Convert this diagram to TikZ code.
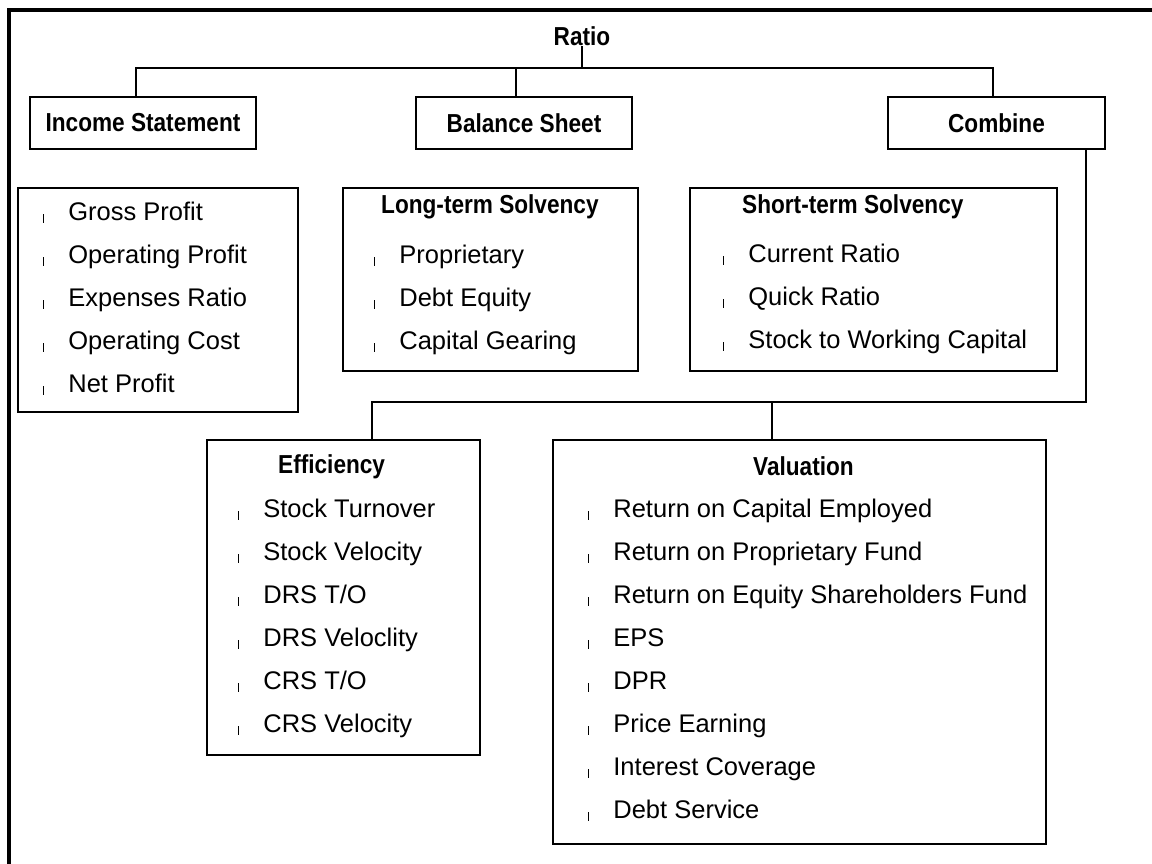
\documentclass[tikz,border=0pt]{standalone}
\usepackage{fontspec}
\setmainfont{Liberation Sans}
\newfontfamily\headfont{Liberation Sans}[FakeStretch=0.87]
\usetikzlibrary{positioning}

\newcommand{\itm}{\rule[-2.5pt]{1.8pt}{9pt}\hspace{24pt}}

\tikzset{
  box/.style={draw, line width=2.6pt, minimum height=52pt, inner sep=0pt, outer sep=0pt,
    font=\headfont\bfseries\fontsize{26}{30}\selectfont},
  listbox/.style={draw, line width=2.6pt, anchor=north west, inner sep=0pt, outer sep=0pt},
  title/.style={anchor=base west, inner sep=0pt,
    font=\headfont\bfseries\fontsize{26}{30}\selectfont},
  item/.style={anchor=base west, inner sep=0pt, font=\fontsize{25.5}{30}\selectfont},
  link/.style={line width=2.2pt}
}

\begin{document}
\begin{tikzpicture}[x=1pt,y=-1pt]
    \useasboundingbox (0,0) rectangle (1152,863);
    % outer frame
    \draw[line width=3.4pt] (9,880) -- (9,10) -- (1170,10);

    % Root and first level
    \node[anchor=base, inner sep=1pt, font=\headfont\bfseries\fontsize{26}{30}\selectfont] (ratio) at (582,45) {Ratio};
    \node[box, minimum width=226pt] (income) at (143,123) {Income Statement};
    \node[box, minimum width=216pt] (balance) at (524,123) {Balance Sheet};
    \node[box, minimum width=217pt] (combine) at (996.5,123) {Combine};

    \coordinate (bus) at (582,68);
    \draw[link] (ratio.south) -- (bus);
    \draw[link] ([xshift=-7pt]income.north) |- (bus) -| ([xshift=-3.5pt]combine.north);
    \draw[link] ([xshift=-8pt]balance.north) -- ([xshift=-8pt]balance.north |- bus);

    % Income statement ratios
    \node[listbox, minimum width=280pt, minimum height=224pt] (incl) at (18,188) {};
    \foreach \t [count=\i from 0] in {Gross Profit, Operating Profit, Expenses Ratio, Operating Cost, Net Profit}
        \node[item] (inc-\i) at (42.4,{220+43*\i}) {\itm\t};

    % Balance sheet ratios
    \node[listbox, minimum width=295pt, minimum height=183pt] (ltsol) at (343,188) {};
    \node[title] (lt-head) at (381,213) {Long-term Solvency};
    \foreach \t [count=\i from 0] in {Proprietary, Debt Equity, Capital Gearing}
        \node[item] (lt-\i) at (373.4,{263+43*\i}) {\itm\t};

    \node[listbox, minimum width=367pt, minimum height=183pt] (stsol) at (690,188) {};
    \node[title] (st-head) at (742,213) {Short-term Solvency};
    \foreach \t [count=\i from 0] in {Current Ratio, Quick Ratio, Stock to Working Capital}
        \node[item] (st-\i) at (722.4,{262+43*\i}) {\itm\t};

    % Combined ratios
    \node[listbox, minimum width=273pt, minimum height=315pt] (eff) at (207,440) {};
    \node[title] (eff-head) at (278,473) {Efficiency};
    \foreach \t [count=\i from 0] in {Stock Turnover, Stock Velocity, DRS T/O, DRS Veloclity, CRS T/O, CRS Velocity}
        \node[item] (eff-\i) at (237.4,{517+43*\i}) {\itm\t};

    \node[listbox, minimum width=493pt, minimum height=404pt] (val) at (553,440) {};
    \node[title] (val-head) at (753,475) {Valuation};
    \foreach \t [count=\i from 0] in {Return on Capital Employed, Return on Proprietary Fund, Return on Equity Shareholders Fund, EPS, DPR, Price Earning, Interest Coverage, Debt Service}
        \node[item] (val-\i) at (587.4,{517+43*\i}) {\itm\t};

    \coordinate (bus2) at (772,402);
    \draw[link] ([xshift=-19pt]combine.south east) |- (bus2);
    \draw[link] ([xshift=28.5pt]eff.north) |- (bus2) -- (bus2 |- val.north);
\end{tikzpicture}
\end{document}
